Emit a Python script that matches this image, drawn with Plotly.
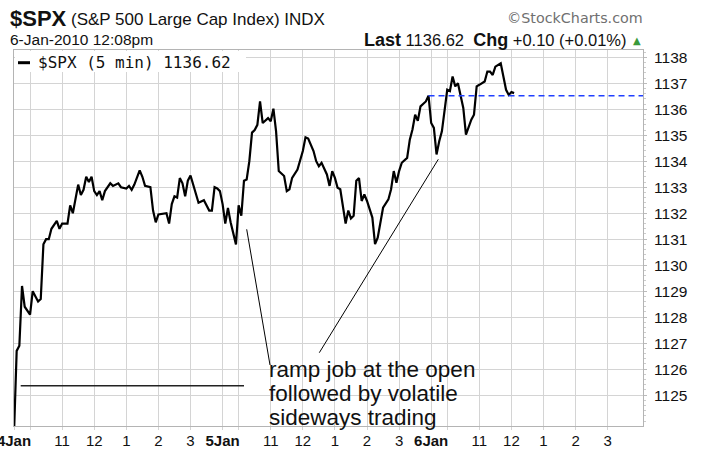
import plotly.graph_objects as go

# ---------------- data ----------------
bar_index = [
    0, 1, 2, 3, 4, 6, 7, 9, 10, 11, 12, 13, 14, 16, 17, 18, 20, 21, 22, 23,
    24, 25, 26, 27, 28, 29, 30, 31, 32, 33, 34, 36, 37, 39, 40, 42, 43, 44, 45, 47,
    48, 49, 51, 52, 53, 54, 56, 57, 58, 59, 60, 61, 62, 63, 64, 65, 66, 67, 69, 71,
    73, 74, 75, 76, 77,
    78, 79, 80, 81, 83, 84, 85, 86, 87, 88, 89, 90, 91, 92, 93, 94, 95, 96, 97, 98,
    99, 101, 102, 103, 104, 106, 108, 109, 110, 112, 113, 114, 115, 117, 118, 119, 120, 121, 122, 124,
    125, 126, 127, 128, 129, 130, 131, 132, 134, 135, 136, 138, 140, 141, 142, 143, 144, 145, 147, 148,
    149, 150, 151, 152, 153, 154, 155,
    156, 157, 158, 159, 160, 162, 163, 164, 165, 166, 167, 168, 169, 170, 171, 172, 173, 174, 176, 177,
    178, 179, 180, 182, 183, 184, 185, 186, 187,
]
close_price = [
    1123.5, 1126.7, 1126.9, 1129.2, 1128.4, 1128.1, 1129.0, 1128.6, 1128.7, 1130.8,
    1131.0, 1131.0, 1131.4, 1131.7, 1131.4, 1131.6, 1131.6, 1132.3, 1132.0, 1132.6,
    1133.1, 1132.7, 1132.9, 1133.4, 1133.2, 1133.4, 1132.85, 1132.7, 1132.85, 1132.5,
    1132.85, 1133.15, 1133.05, 1133.15, 1133.0, 1132.95, 1133.05, 1132.9, 1133.1, 1133.65,
    1133.4, 1133.05, 1133.0, 1132.1, 1131.65, 1131.95, 1132.0, 1132.0, 1131.6, 1132.35,
    1132.65, 1132.6, 1133.35, 1133.15, 1132.65, 1133.25, 1133.45, 1133.1, 1132.4, 1132.5,
    1132.1, 1132.1, 1133.0, 1132.95, 1132.85,
    1132.35, 1131.6, 1132.2, 1131.65, 1130.8, 1132.3, 1131.9, 1133.25, 1133.3, 1134.0,
    1135.1, 1135.2, 1135.4, 1136.3, 1135.47, 1135.56, 1135.66, 1135.54, 1136.02, 1135.15,
    1133.62, 1133.43, 1132.85, 1132.92, 1133.36, 1133.68, 1134.39, 1134.92, 1134.87, 1134.39,
    1134.0, 1133.81, 1133.94, 1133.49, 1133.05, 1133.62, 1133.36, 1132.98, 1132.92, 1131.6,
    1132.1, 1131.8, 1131.9, 1133.25, 1133.35, 1132.47, 1132.72, 1132.47, 1131.83, 1130.81,
    1131.06, 1132.21, 1132.53, 1132.92, 1133.62, 1133.17, 1133.62, 1133.94, 1134.13, 1134.83,
    1135.22, 1135.79, 1135.56, 1136.11, 1136.2, 1136.3, 1136.52,
    1135.47, 1135.28, 1134.26, 1134.77, 1135.15, 1136.75, 1136.7, 1137.26, 1136.88, 1137.0,
    1136.49, 1136.05, 1135.02, 1135.34, 1135.6, 1135.79, 1136.88, 1136.94, 1137.07, 1137.45,
    1137.45, 1137.32, 1137.64, 1137.77, 1137.26, 1136.75, 1136.55, 1136.66, 1136.62,
]

bars_per_day = 78
day_labels = ["4Jan", "5Jan", "6Jan"]
hour_offsets = [6, 18, 30, 42, 54, 66]
hour_labels = ["", "11", "12", "1", "2", "3"]
price_ticks = list(range(1125, 1139))

prev_close = 1136.52
last_price = 1136.62
chg = 0.10
chg_pct = 0.01

symbol = "$SPX"
index_name = "(S&P 500 Large Cap Index) INDX"
stamp = "6-Jan-2010 12:08pm"
note_lines = ["ramp job at the open", "followed by volatile", "sideways trading"]

# ---------------- geometry ----------------
W, H = 708, 474
ML, MR, MT, MB = 14, 65, 50, 48
PW, PH = W - ML - MR, H - MT - MB
x_range = [0, 235.2]
y_range = [1123.81, 1138.28]


def px(x):
    return (x - ML) / PW


def py(y):
    return (H - MB - y) / PH


SANS = "Liberation Sans, Arial, sans-serif"
GRID = "#d4d4d4"
FRAME = "#b4b4b4"

tickvals, ticktext = [], []
for d, lab in enumerate(day_labels):
    tickvals.append(d * bars_per_day)
    ticktext.append(f"<b>{lab}</b>")
    for off, hl in zip(hour_offsets, hour_labels):
        tickvals.append(d * bars_per_day + off)
        ticktext.append(hl)

fig = go.Figure()
fig.add_trace(go.Scatter(
    x=bar_index, y=close_price, mode="lines",
    line=dict(color="black", width=2.2), hoverinfo="skip", showlegend=False,
))
prev_start = 2 * bars_per_day - 1
fig.add_trace(go.Scatter(
    x=[prev_start, x_range[1]], y=[prev_close, prev_close], mode="lines",
    line=dict(color="#2040ff", width=1.6, dash="6px,4px"), hoverinfo="skip", showlegend=False,
))

fig.update_layout(
    width=W, height=H,
    margin=dict(l=ML, r=MR, t=MT, b=MB, autoexpand=False),
    paper_bgcolor="white", plot_bgcolor="white",
    showlegend=False,
    xaxis=dict(
        range=x_range, tickmode="array", tickvals=tickvals, ticktext=ticktext,
        showgrid=True, gridcolor=GRID, gridwidth=1, zeroline=False,
        showline=True, mirror=True, linecolor=FRAME, linewidth=1,
        ticks="outside", ticklen=3, tickcolor=GRID, automargin=False,
        ticklabeloverflow="allow", ticklabelstandoff=-2,
        tickfont=dict(family=SANS, size=15, color="#111"),
    ),
    yaxis=dict(
        range=y_range, side="right", tickmode="array", tickvals=price_ticks,
        showgrid=True, gridcolor=GRID, gridwidth=1, zeroline=False,
        showline=True, mirror=True, linecolor=FRAME, linewidth=1,
        ticks="outside", ticklen=3, tickcolor="#bbbbbb", ticklabelstandoff=4,
        automargin=False, ticklabeloverflow="allow",
        minor=dict(dtick=0.2, ticklen=2, tickcolor="#cccccc", ticks="outside", showgrid=False),
        tickfont=dict(family=SANS, size=15.5, color="#111"),
    ),
)

shapes = [
    # legend background
    dict(type="rect", xref="paper", yref="paper", x0=px(15), x1=px(246), y0=py(72), y1=py(51),
         fillcolor="white", line=dict(width=0), layer="above"),
    # legend swatch
    dict(type="line", xref="paper", yref="paper", x0=px(18), x1=px(30), y0=py(62.7), y1=py(62.7),
         line=dict(color="black", width=3), layer="above"),
    # annotation pointer lines
    dict(type="line", xref="paper", yref="paper", x0=px(246.7), y0=py(229.3), x1=px(270), y1=py(365),
         line=dict(color="black", width=1)),
    dict(type="line", xref="paper", yref="paper", x0=px(319.3), y0=py(352.7), x1=px(438.3), y1=py(159.3),
         line=dict(color="black", width=1)),
    dict(type="line", xref="paper", yref="paper", x0=px(20.7), y0=py(385.7), x1=px(244), y1=py(385.7),
         line=dict(color="#222", width=1.6)),
]
fig.update_layout(shapes=shapes)

ann = []
ann.append(dict(xref="paper", yref="paper", x=px(36), y=py(62.7), xanchor="left", yanchor="middle",
                text=f"{symbol} (5 min) {last_price:.2f}", showarrow=False,
                font=dict(family="DejaVu Sans Mono, monospace", size=16, color="#111")))
for i, line in enumerate(note_lines):
    ann.append(dict(xref="paper", yref="paper", x=px(267), y=py(369 + 24 * i), xanchor="left",
                    yanchor="middle", text=line, showarrow=False,
                    font=dict(family=SANS, size=22.5, color="#111")))
# header
ann.append(dict(xref="paper", yref="paper", x=px(8), y=py(18), xanchor="left", yanchor="middle",
                text=f"<b>{symbol}</b>", showarrow=False, font=dict(family=SANS, size=22, color="#111")))
ann.append(dict(xref="paper", yref="paper", x=px(69), y=py(19), xanchor="left", yanchor="middle",
                text=index_name, showarrow=False, font=dict(family=SANS, size=17, color="#111")))
ann.append(dict(xref="paper", yref="paper", x=px(645), y=py(18), xanchor="right", yanchor="middle",
                text="\u00a9StockCharts.com", showarrow=False,
                font=dict(family="DejaVu Sans, sans-serif", size=14.3, color="#707070")))
ann.append(dict(xref="paper", yref="paper", x=px(8), y=py(40), xanchor="left", yanchor="middle",
                text=stamp, showarrow=False, font=dict(family=SANS, size=15.5, color="#111")))
ann.append(dict(xref="paper", yref="paper", x=px(629), y=py(40), xanchor="right", yanchor="middle",
                text=(f'<span style="font-size:18px"><b>Last</b></span> {last_price:.2f}  '
                      f'<span style="font-size:18px"><b>Chg</b></span> {chg:+.2f} ({chg_pct:+.2f}%)'),
                showarrow=False, font=dict(family=SANS, size=16.5, color="#111")))
ann.append(dict(xref="paper", yref="paper", x=px(637), y=py(41), xanchor="center", yanchor="middle",
                text="\u25b2", showarrow=False,
                font=dict(family="DejaVu Sans, sans-serif", size=10, color="#3a9a3a")))
fig.update_layout(annotations=ann)

fig.write_html(
    "out.html",
    config={"displayModeBar": False, "staticPlot": True},
    post_script="document.body.style.margin='0';document.body.style.padding='0';",
)
